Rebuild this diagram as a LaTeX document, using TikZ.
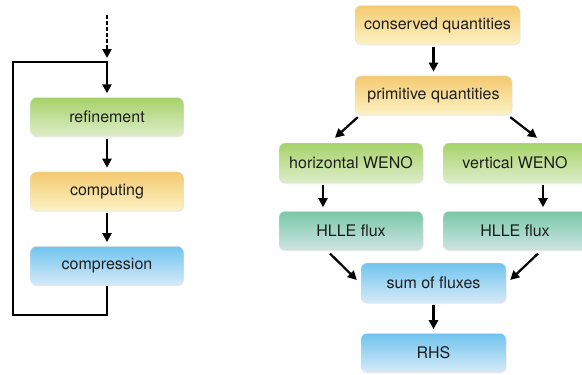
\documentclass[tikz,border=0pt]{standalone}
\usepackage{fontspec}
\setmainfont{TeX Gyre Heros}
\usepackage{tikz}
\usetikzlibrary{arrows.meta,positioning,shadows}
\definecolor{greentop}{RGB}{166, 210, 104}
\definecolor{greenbot}{RGB}{222, 238, 204}
\definecolor{orangetop}{RGB}{244, 202, 112}
\definecolor{orangebot}{RGB}{252, 242, 196}
\definecolor{bluetop}{RGB}{112, 196, 238}
\definecolor{bluebot}{RGB}{214, 234, 248}
\definecolor{tealtop}{RGB}{120, 200, 168}
\definecolor{tealbot}{RGB}{206, 228, 226}
\definecolor{textgray}{RGB}{30, 30, 30}
\tikzstyle{box} = [rectangle, rounded corners=6pt, draw=black!10, line width=0.4pt, text=textgray, text centered, font=\fontsize{16}{19}\selectfont, minimum height=39pt, inner sep=0pt, drop shadow={opacity=0.12, shadow xshift=0.6pt, shadow yshift=-1pt}]
\tikzstyle{greenbox} = [box, top color=greentop, bottom color=greenbot]
\tikzstyle{orangebox} = [box, top color=orangetop, bottom color=orangebot]
\tikzstyle{bluebox} = [box, top color=bluetop, bottom color=bluebot]
\tikzstyle{tealbox} = [box, top color=tealtop, bottom color=tealbot]
\tikzstyle{tedge} = [draw, line width=2.2pt, -{Triangle[length=9pt,width=9pt]}, shorten <=2pt, shorten >=4pt]
\tikzstyle{loopline} = [draw, line width=2.8pt]

\begin{document}
\begin{tikzpicture}[x=1pt, y=1pt]
\useasboundingbox (0,0) rectangle (582,-375);

% loop ===================================
\node[greenbox, minimum width=153pt] (refine) at (107,-117) {refinement};
\node[orangebox, minimum width=153pt, below=35pt of refine] (comp) {computing};
\node[bluebox, minimum width=153pt, below=35pt of comp] (compress) {compression};
\coordinate (start) at (107,-15);
\coordinate (join) at (107,-62);
\coordinate (loopl) at (13,-315);

% right-hand side ========================
\node[orangebox, minimum width=165pt] (conserved) at (437.5,-25) {conserved quantities};
\node[orangebox, minimum width=157pt, below=31pt of conserved.south west, anchor=north west] (primitive) {primitive quantities};
\node[greenbox, minimum width=144pt, minimum height=40pt] (hweno) at (351,-163) {horizontal WENO};
\node[greenbox, minimum width=144pt, minimum height=40pt] (vweno) at (515,-163) {vertical WENO};
\node[tealbox, minimum width=144pt, below=28pt of hweno] (hflux) {HLLE flux};
\node[tealbox, minimum width=144pt, below=28pt of vweno] (vflux) {HLLE flux};
\node[bluebox, minimum width=145pt, minimum height=40pt] (sum) at (433.5,-283) {sum of fluxes};
\node[bluebox, minimum width=145pt, below=30pt of sum] (rhs) {RHS};

% edges
\path[tedge, dash pattern=on 3.5pt off 2.5pt, shorten <=0pt, shorten >=4pt] (start) -- (join);
\path[loopline] (compress.south) |- (loopl) |- ([xshift=1.4pt]join);
\path[tedge, shorten <=0pt, shorten >=4pt] (join) -- (refine);
\path[tedge] (refine) -- (comp);
\path[tedge] (comp) -- (compress);

\path[tedge] (conserved.south -| primitive.south) -- (primitive);
\path[tedge, shorten <=0pt, shorten >=0pt] ([shift={(3pt,-2pt)}]primitive.south west) -- ([shift={(-16pt,5pt)}]hweno.north);
\path[tedge, shorten <=0pt, shorten >=0pt] ([shift={(-2pt,-2pt)}]primitive.south east) -- ([shift={(22pt,5pt)}]vweno.north);
\path[tedge] ([xshift=-28pt]hweno.south) -- ([xshift=-28pt]hflux.north);
\path[tedge] ([xshift=28pt]vweno.south) -- ([xshift=28pt]vflux.north);
\path[tedge, shorten <=0pt, shorten >=0pt] ([shift={(-21pt,-3pt)}]hflux.south) -- ([shift={(-4pt,3pt)}]sum.west);
\path[tedge, shorten <=0pt, shorten >=0pt] ([shift={(23pt,-3pt)}]vflux.south) -- ([shift={(4pt,3pt)}]sum.east);
\path[tedge] (sum) -- (rhs);

\end{tikzpicture}
\end{document}
